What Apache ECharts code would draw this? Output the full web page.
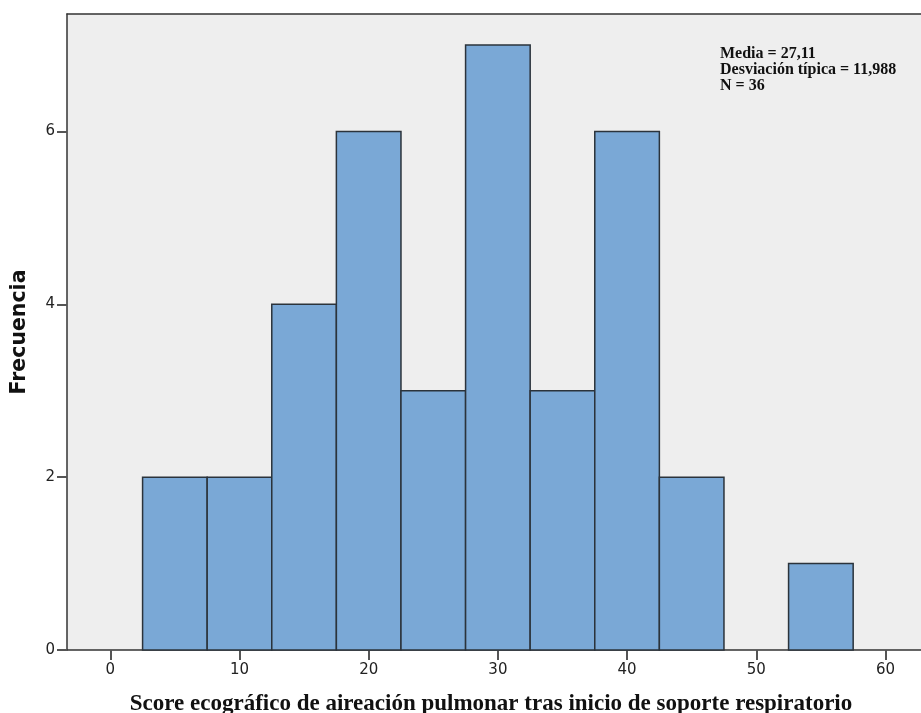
<!DOCTYPE html>
<html>
<head>
<meta charset="utf-8">
<script src="https://cdn.jsdelivr.net/npm/echarts@6/dist/echarts.min.js"></script>
<style>
  html, body { margin: 0; padding: 0; background: #ffffff; }
  #chart { width: 921px; height: 713px; }
</style>
</head>
<body>
<div id="chart"></div>
<script>
// Histogram bins (centre of each bin) and their frequencies
const binCenters = [5, 10, 15, 20, 25, 30, 35, 40, 45, 50, 55];
const counts = [2, 2, 4, 6, 3, 7, 3, 6, 2, 0, 1];
const binWidth = 5;

// Axis tick labels
const xTicks = [0, 10, 20, 30, 40, 50, 60];
const yTicks = [0, 2, 4, 6];

// Summary statistics
const statsLines = ['Media = 27,11', 'Desviación típica = 11,988', 'N = 36'];

const xTitle = 'Score ecográfico de aireación pulmonar tras inicio de soporte respiratorio';
const yTitle = 'Frecuencia';

const chart = echarts.init(document.getElementById('chart'), null, { renderer: 'canvas' });

const data = binCenters.map((c, i) => [c, counts[i]]);
const xMin = -3.35, xMax = 62.75;

chart.setOption({
  animation: false,
  backgroundColor: '#ffffff',
  grid: {
    left: 67, top: 14, right: 0, bottom: 63,
    show: true,
    backgroundColor: '#eeeeee',
    borderWidth: 0
  },
  xAxis: [{
    type: 'value',
    min: xMin,
    max: xMax,
    splitLine: { show: false },
    axisLine: { show: true, onZero: false, lineStyle: { color: '#333333', width: 1.5 } },
    axisTick: {
      show: true, inside: false, length: 10,
      customValues: xTicks,
      lineStyle: { color: '#555555', width: 2 }
    },
    axisLabel: {
      customValues: xTicks,
      margin: 13,
      color: '#222222',
      fontFamily: 'DejaVu Sans',
      fontSize: 15
    }
  }, {
    // top edge of the plot frame
    type: 'value',
    position: 'top',
    min: xMin,
    max: xMax,
    splitLine: { show: false },
    axisLine: { show: true, onZero: false, lineStyle: { color: '#333333', width: 1.5 } },
    axisTick: { show: false },
    axisLabel: { show: false }
  }],
  yAxis: {
    type: 'value',
    min: 0,
    max: 7.36,
    splitLine: { show: false },
    axisLine: { show: true, onZero: false, lineStyle: { color: '#333333', width: 1.5 } },
    axisTick: {
      show: true, inside: false, length: 10,
      customValues: yTicks,
      lineStyle: { color: '#555555', width: 2 }
    },
    axisLabel: {
      customValues: yTicks,
      margin: 12,
      color: '#222222',
      fontFamily: 'DejaVu Sans',
      fontSize: 15
    }
  },
  series: [{
    type: 'custom',
    data: data,
    encode: { x: 0, y: 1 },
    renderItem: function (params, api) {
      const c = api.value(0);
      const v = api.value(1);
      if (!v) return null;
      const p0 = api.coord([c - binWidth / 2, 0]);
      const p1 = api.coord([c + binWidth / 2, v]);
      return {
        type: 'rect',
        shape: { x: p0[0], y: p1[1], width: p1[0] - p0[0], height: p0[1] - p1[1] },
        style: { fill: '#7aa8d6', stroke: '#2b333b', lineWidth: 1.5 }
      };
    }
  }],
  graphic: [
    {
      type: 'text',
      left: 720, top: 46,
      style: {
        text: statsLines.join('\n'),
        font: 'bold 16px "Liberation Serif"',
        lineHeight: 16,
        fill: '#111111'
      }
    },
    {
      type: 'text',
      x: 491, y: 704,
      style: {
        text: xTitle,
        font: 'bold 23px "Liberation Serif"',
        textAlign: 'center',
        textVerticalAlign: 'middle',
        fill: '#111111'
      }
    },
    {
      type: 'text',
      x: 20, y: 332,
      rotation: Math.PI / 2,
      style: {
        text: yTitle,
        font: 'bold 20.5px "DejaVu Sans"',
        textAlign: 'center',
        textVerticalAlign: 'middle',
        fill: '#111111'
      }
    }
  ]
});
</script>
</body>
</html>
